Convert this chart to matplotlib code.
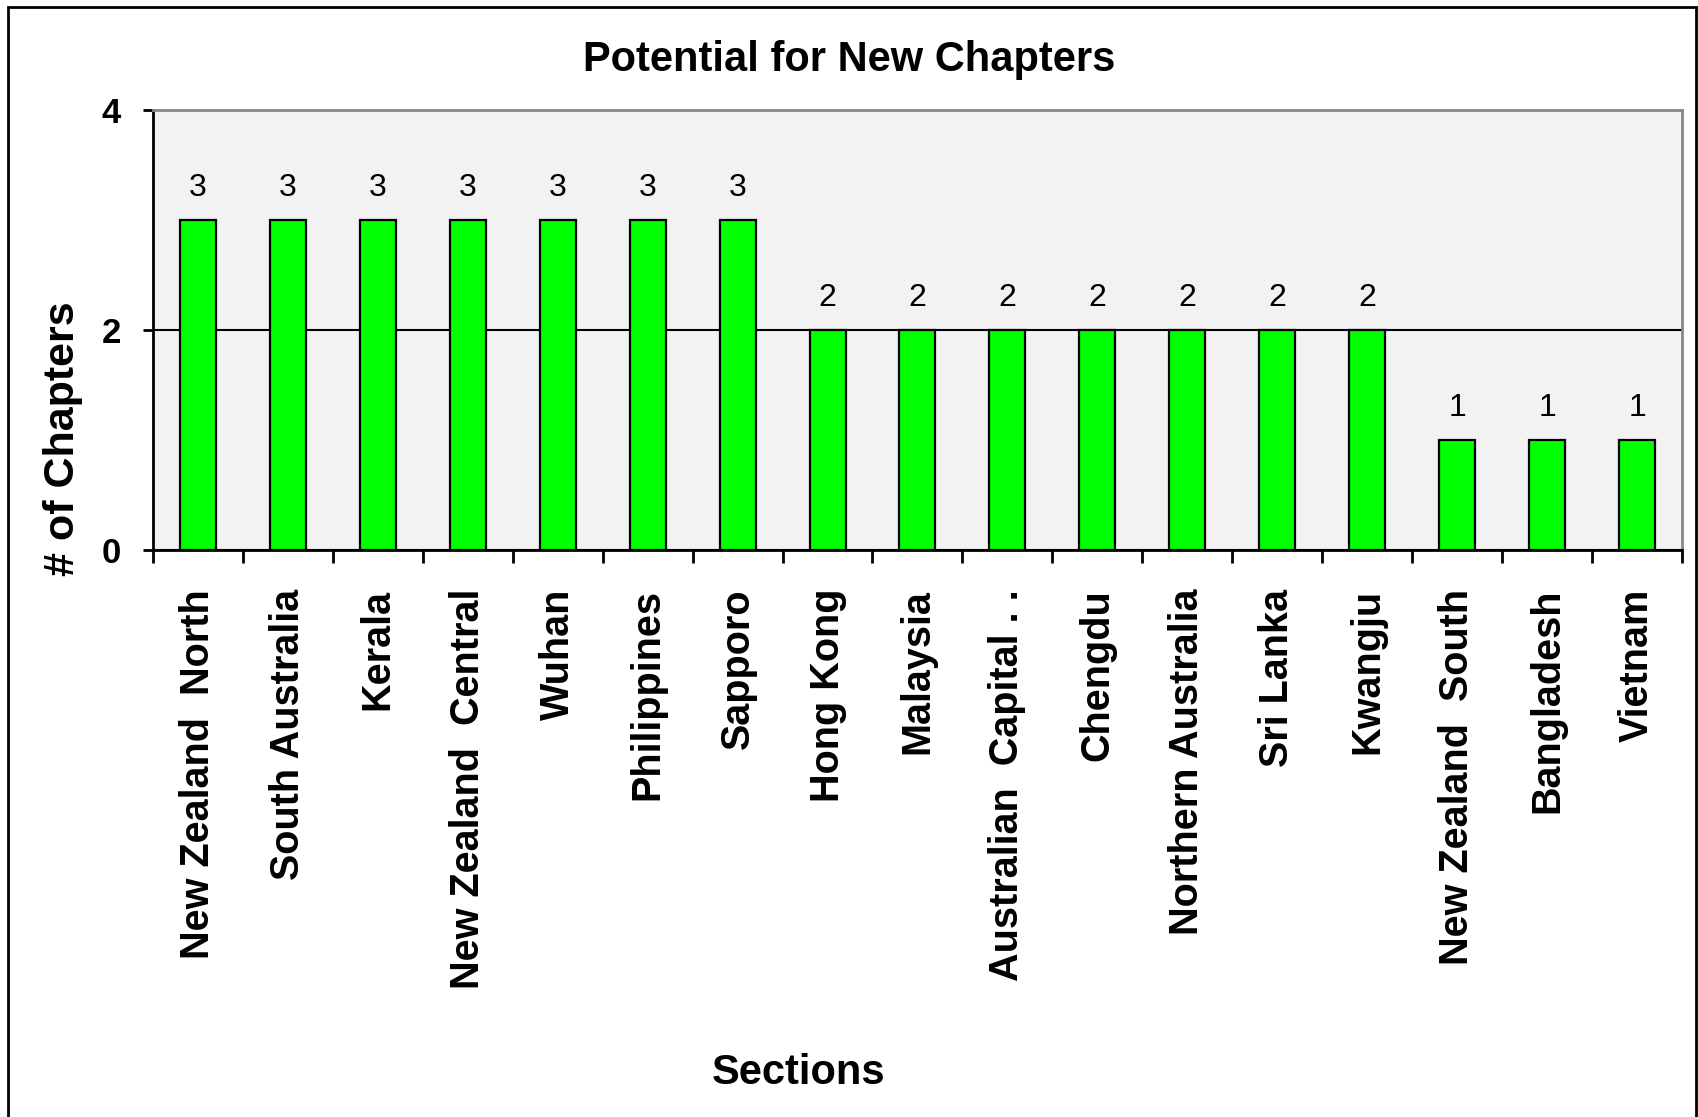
import matplotlib
matplotlib.use("Agg")
import matplotlib.pyplot as plt
from matplotlib.patches import Rectangle

plt.rcParams['font.family'] = ['Liberation Sans', 'DejaVu Sans']

# datos del gráfico
sections = ["New Zealand  North", "South Australia", "Kerala", "New Zealand  Central",
            "Wuhan", "Philippines", "Sapporo", "Hong Kong", "Malaysia",
            "Australian  Capital . .", "Chengdu", "Northern Australia", "Sri Lanka",
            "Kwangju", "New Zealand  South", "Bangladesh", "Vietnam"]
chapters = [3, 3, 3, 3, 3, 3, 3, 2, 2, 2, 2, 2, 2, 2, 1, 1, 1]
y_ticks = [0, 2, 4]

fig = plt.figure(figsize=(16.99, 11.17), dpi=100)
ax = fig.add_axes([0.090, 0.5076, 0.900, 0.3939])
ax.set_facecolor('#f2f2f2')

x = list(range(len(sections)))
bars = ax.bar(x, chapters, width=0.4, color='#00ff00', edgecolor='black',
              linewidth=1.6, zorder=3)
ax.bar_label(bars, padding=12, fontsize=23)

ax.set_xlim(-0.5, len(sections) - 0.5)
ax.set_ylim(0, 4)
ax.set_yticks(y_ticks)
ax.set_yticklabels([str(v) for v in y_ticks], fontsize=25, fontweight='bold')
ax.grid(axis='y', color='black', linewidth=1.5)
ax.set_axisbelow(True)

# ticks del eje x entre categorías, etiquetas centradas
ax.set_xticks([i - 0.5 for i in range(len(sections) + 1)])
ax.set_xticklabels([])
ax.set_xticks(x, minor=True)
ax.set_xticklabels(sections, minor=True, rotation=90, fontsize=28.5,
                   fontweight='bold')
ax.tick_params(axis='x', which='minor', length=0, pad=28)
ax.tick_params(axis='x', which='major', length=9, width=2, direction='out')
ax.tick_params(axis='y', length=7, width=2, direction='out', pad=16)

for side in ['left', 'bottom']:
    ax.spines[side].set_color('black')
    ax.spines[side].set_linewidth(2)
for side in ['top', 'right']:
    ax.spines[side].set_color('#888888')
    ax.spines[side].set_linewidth(2)

fig.text(0.5, 0.946, "Potential for New Chapters", ha='center', va='center',
         fontsize=30, fontweight='bold')
fig.text(0.470, 0.039, "Sections", ha='center', va='center',
         fontsize=30, fontweight='bold')
fig.text(0.037, 0.607, "# of Chapters", ha='center', va='center',
         rotation=90, fontsize=31, fontweight='bold')

# marco exterior
fig.patches.append(Rectangle((0.005, -0.01), 0.993, 1.004, transform=fig.transFigure,
                             fill=False, edgecolor='black', linewidth=2))

fig.savefig("out.png", dpi=100)
